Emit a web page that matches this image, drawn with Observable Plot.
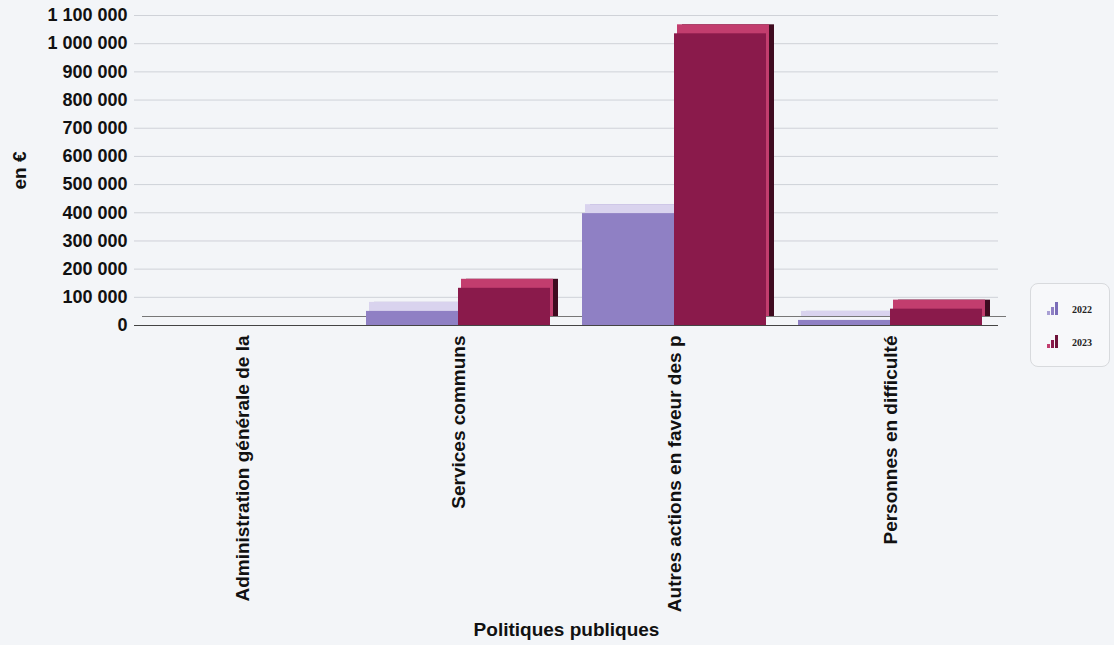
<!DOCTYPE html>
<html><head><meta charset="utf-8">
<script src="https://cdn.jsdelivr.net/npm/d3@7"></script>
<script src="https://cdn.jsdelivr.net/npm/@observablehq/plot@0.6"></script>
<style>
body{margin:0;background:#f3f5f8;font-family:"Liberation Sans",Arial,sans-serif;}
#wrap{position:relative;width:1114px;height:645px;}
#legend{position:absolute;left:1030px;top:283px;width:80px;height:84px;border:1px solid #d8dadd;border-radius:8px;background:#f7f8fa;box-sizing:border-box;font:bold 10px "Liberation Serif",serif;color:#222;}
.li{position:absolute;left:16px;display:flex;align-items:flex-end;gap:14px;}
.ic{display:flex;align-items:flex-end;gap:1px;height:13px;}
.ic span{display:block;width:3px;}
</style></head>
<body><div id="wrap"><div id="chart"></div><div id="legend"></div></div>
<script>
const categories = ["Administration générale de la", "Services communs", "Autres actions en faveur des p", "Personnes en difficulté"];
const years = ["2022", "2023"];
const values2022 = [0, 50000, 397000, 18000];
const values2023 = [0, 132000, 1035000, 58000];
const yTicks = [0,100000,200000,300000,400000,500000,600000,700000,800000,900000,1000000,1100000];

const front = {"2022": "#8f80c4", "2023": "#8a1a4b"};
const top_ = {"2022": "#d9d3ee", "2023": "#c23d6e"};
const side = {"2022": "#6a5ca6", "2023": "#3f0b20"};

const data = [];
categories.forEach((c, i) => {
  data.push({cat: c, year: "2022", value: values2022[i]});
  data.push({cat: c, year: "2023", value: values2023[i]});
});
const fmt = v => d3.format(",")(v).replace(/,/g, " ");

const plot = Plot.plot({
  width: 1114, height: 645,
  marginLeft: 134, marginRight: 116, marginTop: 15, marginBottom: 320,
  style: {background: "transparent", fontFamily: "Liberation Sans, Arial, sans-serif", fontSize: "18px", fontWeight: "bold", color: "#111"},
  fx: {domain: categories, padding: 0, label: "Politiques publiques", labelAnchor: "center", labelOffset: 310, tickRotate: -90, tickSize: 0, tickPadding: 10},
  x: {domain: years, paddingInner: 0, paddingOuter: 0.17, axis: null},
  y: {domain: [0, 1100000], ticks: yTicks, tickFormat: fmt, label: "en €", labelAnchor: "center", labelOffset: 122, tickSize: 0, tickPadding: 7, labelArrow: "none"},
  marks: [
    Plot.gridY(yTicks, {stroke: "#cfd2d8", strokeOpacity: 1}),
    Plot.ruleY([0], {stroke: "#777", strokeWidth: 1, dx: 8, dy: -9}),
    Plot.barY(data, {fx: "cat", x: "year", y: "value", fill: d => side[d.year], dx: 8, dy: -9}),
    Plot.barY(data, {fx: "cat", x: "year", y: "value", fill: d => top_[d.year], dx: 3, dy: -9}),
    Plot.barY(data, {fx: "cat", x: "year", y: "value", fill: d => front[d.year]}),
    Plot.ruleY([0], {stroke: "#444", strokeWidth: 1.2})
  ]
});
document.getElementById("chart").appendChild(plot);
plot.querySelectorAll("g[aria-label='fx-axis tick label'] text").forEach(t => t.style.fontSize = "19px");
plot.querySelectorAll("g[aria-label='y-axis label'] text, g[aria-label='fx-axis label'] text").forEach(t => t.style.fontSize = "19px");

const lg = document.getElementById("legend");
[["2022", ["#a9a0d4","#8f80c4","#7b6db8"], 18], ["2023", ["#c23d6e","#8a1a4b","#6e1339"], 51]].forEach(([y, cols, t]) => {
  const d = document.createElement("div");
  d.className = "li"; d.style.top = t + "px";
  d.innerHTML = `<div class="ic"><span style="height:4px;background:${cols[0]}"></span><span style="height:8px;background:${cols[1]}"></span><span style="height:13px;background:${cols[2]}"></span></div><div>${y}</div>`;
  lg.appendChild(d);
});
</script>
</body></html>
